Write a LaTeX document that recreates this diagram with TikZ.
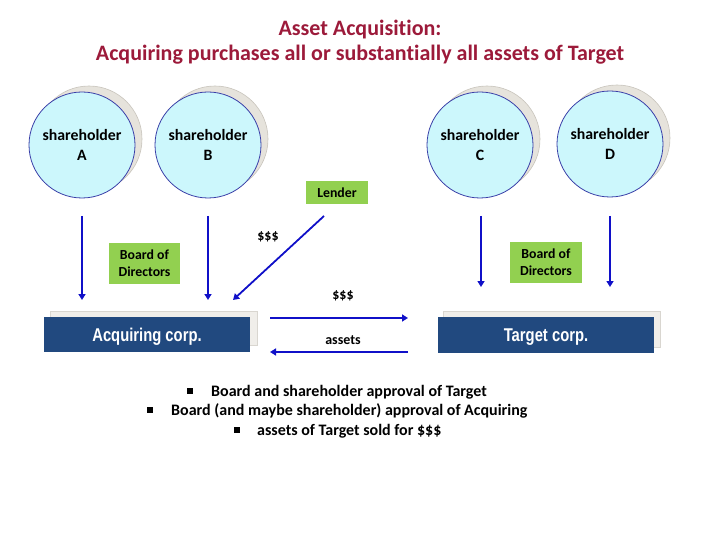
\documentclass[tikz,border=0pt]{standalone}
\usepackage{fontspec}
\setmainfont[Ligatures=NoCommon]{Carlito}
\newfontfamily\arialfont{Liberation Sans}
\usetikzlibrary{arrows.meta}
\definecolor{titlered}{HTML}{9C1A3A}
\definecolor{circfill}{HTML}{CCF7FC}
\definecolor{circline}{HTML}{3A3FA8}
\definecolor{shadowfill}{HTML}{E6E3DC}
\definecolor{shadowline}{HTML}{C8C4BC}
\definecolor{greenbox}{HTML}{92D050}
\definecolor{corpblue}{HTML}{21497F}
\definecolor{arrowblue}{HTML}{1010C8}
\tikzset{
  shcirc/.style={circle, minimum size=106pt, inner sep=0pt, fill=circfill, draw=circline, line width=0.8pt, align=center, font=\fontsize{15.8}{20}\selectfont\bfseries},
  shshadow/.style={circle, minimum size=106pt, inner sep=0pt, fill=shadowfill, draw=shadowline, line width=0.6pt},
  greenbox/.style={fill=greenbox, align=center, font=\fontsize{13.8}{17}\selectfont\bfseries, inner sep=2pt},
  corpbox/.style={fill=corpblue, minimum width=206pt, minimum height=35pt, inner sep=0pt, text=white, font=\arialfont\fontsize{18.5}{22}\selectfont\bfseries},
  corpshadow/.style={fill=shadowfill!60, draw=shadowline!70, minimum width=207pt, minimum height=34pt, inner sep=0pt},
  flow/.style={draw=arrowblue, line width=1.8pt, -{Triangle[length=6pt,width=7pt]}},
  lbl/.style={font=\fontsize{14}{16}\selectfont\bfseries},
  bmark/.style={fill=black, minimum size=5.5pt, inner sep=0pt},
  blt/.style={font=\fontsize{16}{19}\selectfont\bfseries, anchor=west, inner sep=0pt}
}
\begin{document}
\begin{tikzpicture}[x=1pt,y=-1pt]
\useasboundingbox (0,0) rectangle (720,540);
% title
\node[text=titlered, font=\fontsize{22}{25}\selectfont\bfseries, align=center] (title) at (360,42) {Asset Acquisition:\\Acquiring purchases all or substantially all assets of Target};
% shareholders
\node[shshadow] (sAs) at (89,139) {};
\node[shcirc] (sA) at (82,145) {shareholder\\A};
\node[shshadow] (sBs) at (215,139) {};
\node[shcirc] (sB) at (208,145) {shareholder\\B};
\node[shshadow] (sCs) at (487,139) {};
\node[shcirc] (sC) at (480,145) {shareholder\\C};
\node[shshadow] (sDs) at (617,138) {};
\node[shcirc] (sD) at (610,144) {shareholder\\D};
% lender and boards
\node[greenbox, minimum width=62pt, minimum height=23pt] (lender) at (337,192.5) {Lender};
\node[greenbox, minimum width=71pt, minimum height=41pt] (bodA) at (144.5,263.5) {Board of\\Directors};
\node[greenbox, minimum width=72pt, minimum height=41pt] (bodT) at (546,262.5) {Board of\\Directors};
% corps
\node[corpshadow] (acqs) at (153.5,328) {};
\node[corpbox] (acq) at (147,334.5) {};
\node[text=white, font=\arialfont\fontsize{18.5}{22}\selectfont\bfseries] (acqt) at (147,336.5) {\scalebox{0.8}[1]{Acquiring corp.}};
\node[corpshadow, minimum width=217pt, minimum height=36pt] (tars) at (551.5,329) {};
\node[corpbox, minimum width=216pt, minimum height=36pt] (tar) at (546,335) {};
\node[text=white, font=\arialfont\fontsize{18.5}{22}\selectfont\bfseries] (tart) at (546,337) {\scalebox{0.8}[1]{Target corp.}};
% connector anchors
\coordinate (sAo) at (82,216);
\coordinate (sBo) at (208,216);
\coordinate (lo) at (324,216);
\coordinate (sCo) at (481,216);
\coordinate (sDo) at (610,216);
\coordinate (aA) at (82,300);
\coordinate (aB) at (208,300);
\coordinate (aL) at (233,300);
\coordinate (aC) at (481,287);
\coordinate (aD) at (610,287);
\coordinate (pL) at (270,318);
\coordinate (pR) at (408,318);
\coordinate (qL) at (270,352);
\coordinate (qR) at (408,352);
\draw[flow] (sAo) -- (aA);
\draw[flow] (sBo) -- (aB);
\draw[flow] (lo) -- (aL);
\draw[flow] (sCo) -- (aC);
\draw[flow] (sDo) -- (aD);
\draw[flow] (pL) -- (pR);
\draw[flow] (qR) -- (qL);
\node[lbl] (d1) at (268,237) {\$\$\$};
\node[lbl] (d2) at (343,296) {\$\$\$};
\node[lbl] (as) at (343,340) {assets};
% bullets
\node[bmark] (b1) at (190,391) {};
\node[blt] (t1) at (211,392) {Board and shareholder approval of Target};
\node[bmark] (b2) at (150,410) {};
\node[blt] (t2) at (171,411) {Board (and maybe shareholder) approval of Acquiring};
\node[bmark] (b3) at (237,430) {};
\node[blt] (t3) at (257,431) {assets of Target sold for \$\$\$};
\end{tikzpicture}
\end{document}
